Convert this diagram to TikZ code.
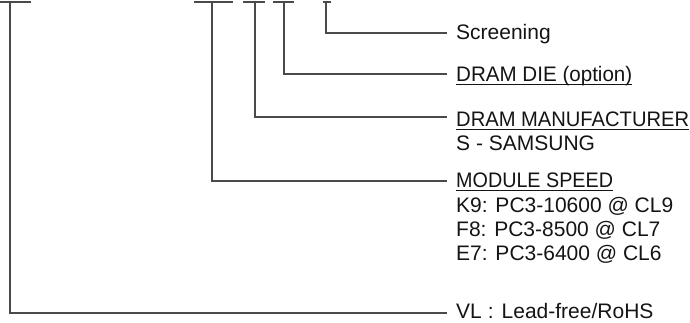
\documentclass[tikz,border=0pt]{standalone}
\usepackage{fontspec}
\usepackage{graphicx}
\setmainfont{Liberation Sans}
\definecolor{linegray}{HTML}{4A4A4A}
\definecolor{txt}{HTML}{141414}
\newcommand\myul[2][1]{\setbox0\hbox{\scalebox{#1}[1]{#2}}\rlap{\rule[-3.2pt]{\wd0}{1.2pt}}\box0}
\tikzset{
  conn/.style={draw=linegray, line width=1.4pt},
  topbar/.style={draw=linegray, line width=2pt},
  lbl/.style={anchor=base west, inner sep=0pt, text=txt, font=\fontsize{21}{24}\selectfont},
}
\begin{document}
\begin{tikzpicture}[x=1pt,y=-1pt]
\useasboundingbox (0,0) rectangle (690,323);
% top bars
\draw[topbar] (0,2) -- (31,2);
\draw[topbar] (194,2) -- (233,2);
\draw[topbar] (243,2) -- (265,2);
\draw[topbar] (273,2) -- (294,2);
\draw[topbar] (323,2) -- (331,2);
% connector start points
\coordinate (v1) at (10,1);
\coordinate (v2) at (212,1);
\coordinate (v3) at (255,1);
\coordinate (v4) at (284,1);
\coordinate (v5) at (326,1);
% connector end points
\coordinate (e5) at (447,33);
\coordinate (e4) at (447,74);
\coordinate (e3) at (447,117);
\coordinate (e2) at (447,181);
\coordinate (e1) at (447,313);
% labels
\node[lbl] (scr) at (456,40) {Screening};
\node[lbl] (die) at (456,82) {\myul[0.98]{DRAM DIE (option)}};
\node[lbl] (man) at (456,127) {\myul[0.96]{DRAM MANUFACTURER}};
\node[lbl] (sam) at (456,151) {S - SAMSUNG};
\node[lbl] (spd) at (456,188) {\myul[0.94]{MODULE SPEED}};
\node[lbl] (k9) at (456,212.5) {K9: PC3-10600 @ CL9};
\node[lbl] (f8) at (456,236.5) {F8: PC3-8500 @ CL7};
\node[lbl] (e7) at (456,260) {E7: PC3-6400 @ CL6};
\node[lbl] (vl) at (456,318.5) {VL\hspace{6pt}:\hspace{8pt}Lead-free/RoHS};
% connectors
\draw[conn] (v5) |- (e5);
\draw[conn] (v4) |- (e4);
\draw[conn] (v3) |- (e3);
\draw[conn] (v2) |- (e2);
\draw[conn] (v1) |- (e1);
\end{tikzpicture}
\end{document}
